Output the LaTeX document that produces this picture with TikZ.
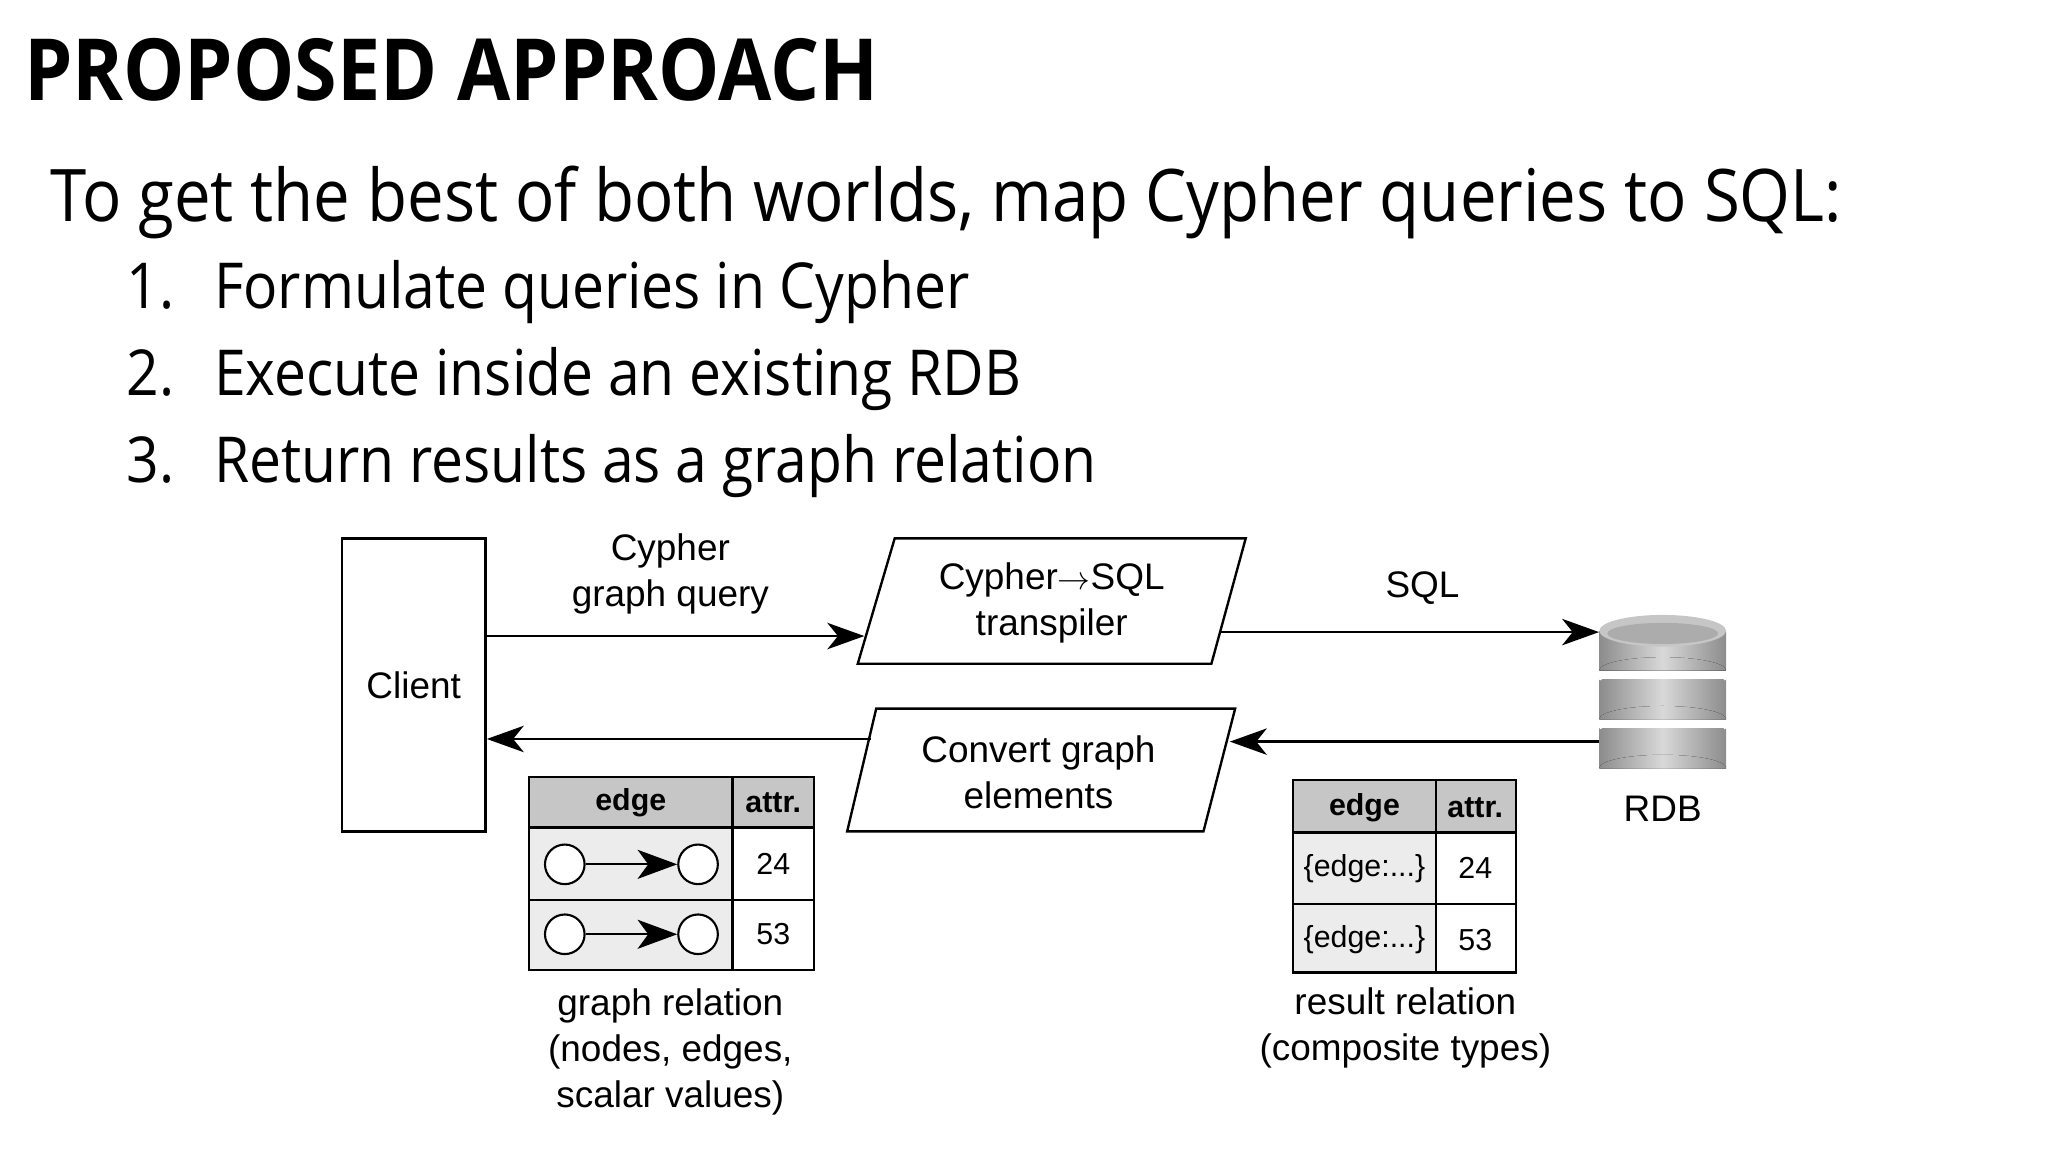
\documentclass[tikz,border=0pt]{standalone}
\usepackage{fontspec}
\setmainfont{Open Sans}[FakeStretch=0.9]
\newfontfamily\diag{Liberation Sans}
\usetikzlibrary{arrows.meta,shadings}

\tikzset{
  flow/.style={line width=2pt, -{Stealth[length=28pt,width=20pt,inset=8pt]}},
  box/.style={draw, line width=1.8pt},
  lbl/.style={font=\diag\fontsize{28}{35}\selectfont, align=center},
  cell/.style={font=\diag\fontsize{23}{27}\selectfont},
  hcell/.style={font=\diag\bfseries\fontsize{23}{27}\selectfont},
  band/.style={left color=gray!90, right color=gray!90, middle color=gray!30},
}

\begin{document}
\begin{tikzpicture}[x=1pt, y=-1pt]
		\useasboundingbox (0,0) rectangle (1552,873);
		% heading and bullet list
		\node[anchor=base west, inner sep=0, font=\bfseries\fontsize{65}{70}\selectfont] (title) at (18,76) {PROPOSED APPROACH};
		\node[anchor=base west, inner sep=0, font=\fontsize{55}{62}\selectfont] (intro) at (38,168) {To get the best of both worlds, map Cypher queries to SQL:};
		\foreach \n/\txt [count=\i] in {1/Formulate queries in Cypher, 2/Execute inside an existing RDB, 3/Return results as a graph relation} {
			\node[anchor=base west, inner sep=0, font=\fontsize{48}{52}\selectfont] (num\i) at (96,{234+66*(\i-1)}) {\n.};
			\node[anchor=base west, inner sep=0, font=\fontsize{48}{52}\selectfont] (item\i) at (162,{234+66*(\i-1)}) {\txt};
		}
		
		% client
		\node[box, minimum width=109pt, minimum height=222pt, lbl] (client) at (313.5,519) {Client};
		% transpiler and converter
		\draw[box] (678,408) -- (944,408) -- (918,503) -- (650,503) -- cycle;
		\node[lbl] (transpiler) at (797,457) {Cypher$\rightarrow$SQL\\transpiler};
		\draw[box] (664,537) -- (936,537) -- (912,630) -- (642,630) -- cycle;
		\node[lbl] (convert) at (787,585) {Convert graph\\elements};
		
		% database
		\foreach \t in {2,1,0} {
			\fill[band] (1212,{478+37*\t}) rectangle (1308,{508+37*\t});
			\fill[band] (1212,{508+37*\t}) arc[start angle=180, end angle=360, x radius=48, y radius=10];
			\draw[white, line width=3pt] (1212,{478+37*\t}) arc[start angle=180, end angle=360, x radius=48, y radius=10];
		}
		\fill[gray!45] (1260,478) ellipse[x radius=48, y radius=12];
		\fill[gray!65] (1260,480) ellipse[x radius=42, y radius=8];
		\node[inner sep=0, minimum width=96pt, minimum height=116pt] (rdb) at (1260,520) {};
		\node[lbl] (rdblabel) at (1260,613) {RDB};
		
		% connectors
		\coordinate (q1) at (655,482);
		\coordinate (s0) at (925,479);
		\coordinate (r0) at (932,562);
		\coordinate (c0) at (660,560);
		\draw[flow] (client.east |- q1) -- (q1);
		\draw[flow] (s0) -- (rdb.west |- s0);
		\draw[flow] (rdb.west |- r0) -- (r0);
		\draw[flow] (c0) -- (client.east |- c0);
		\node[lbl] (query) at (508,435) {Cypher\\graph query};
		\node[lbl] (sql) at (1078,446) {SQL};
		
		% graph relation table
		\fill[gray!45] (401,589) rectangle (617,627);
		\fill[gray!15] (401,627) rectangle (555,735);
		\draw[box] (401,589) rectangle (617,735);
		\draw[box] (555,589) -- (555,735) (401,627) -- (617,627) (401,682) -- (617,682);
		\node[hcell] (ghead1) at (478,608) {edge};
		\node[hcell] (ghead2) at (586,608) {attr.};
		\foreach \v [count=\i] in {24,53} {
			\node[draw, circle, line width=1.6pt, fill=white, minimum size=30pt, inner sep=0] (src\i) at (428,{655+53*(\i-1)}) {};
			\node[draw, circle, line width=1.6pt, fill=white, minimum size=30pt, inner sep=0] (dst\i) at (529,{655+53*(\i-1)}) {};
			\draw[line width=1.6pt, -{Stealth[length=30pt,width=22pt,inset=8pt]}] (src\i) -- (dst\i);
			\node[cell] (gval\i) at (586,{655+53*(\i-1)}) {\v};
		}
		\node[lbl] (gcap) at (508,797) {graph relation\\(nodes, edges,\\scalar values)};
		
		% result relation table
		\fill[gray!45] (980,591) rectangle (1149,631);
		\fill[gray!15] (980,631) rectangle (1088,737);
		\draw[box] (980,591) rectangle (1149,737);
		\draw[box] (1088,591) -- (1088,737) (980,631) -- (1149,631) (980,685) -- (1149,685);
		\node[hcell] (rhead1) at (1034,612) {edge};
		\node[hcell] (rhead2) at (1118,612) {attr.};
		\foreach \v [count=\i] in {24,53} {
			\node[cell] (rkey\i) at (1034,{658+54*(\i-1)}) {\{edge:...\}};
			\node[cell] (rval\i) at (1118,{658+54*(\i-1)}) {\v};
		}
		\node[lbl] (rcap) at (1065,779) {result relation\\(composite types)};
\end{tikzpicture}
\end{document}
